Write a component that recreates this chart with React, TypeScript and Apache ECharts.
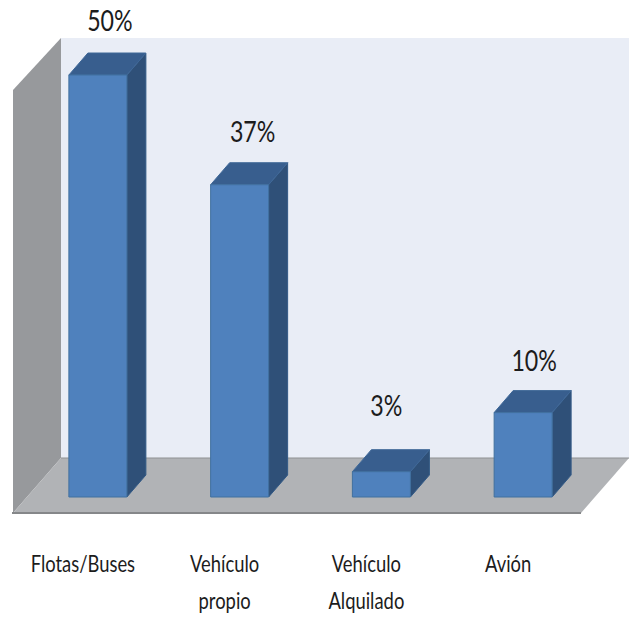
import React, { useEffect, useRef } from "react";
import * as echarts from "echarts";

const categories = ["Flotas/Buses", "Vehículo\npropio", "Vehículo\nAlquilado", "Avión"];
const values = [50, 37, 3, 10];
const valueLabels = ["50%", "37%", "3%", "10%"];
const labelShiftX = [12, 13, 5, 11];
const labelShiftY = [-55, -54, -67, -53];

const FONT = 'Lato, "Open Sans", sans-serif';
const BAR_W = 58;
const DX = 19;
const DY = 22;
const CAT_SHIFT_X = -15;
const CAT_LINE_1 = 563;
const CAT_LINE_GAP = 37;

function renderBar(params: any, api: any) {
  const i = api.value(0);
  const [cx, top] = api.coord([i, api.value(1)]);
  const [, base] = api.coord([i, 0]);
  const l = cx - BAR_W / 2;
  const r = cx + BAR_W / 2;
  const catLines = categories[i].split("\n").map((line, k) => ({
    type: "text",
    x: cx + CAT_SHIFT_X,
    y: CAT_LINE_1 + k * CAT_LINE_GAP,
    scaleX: 0.8,
    style: {
      text: line,
      font: `23px ${FONT}`,
      fill: "#1c1c1c",
      textAlign: "center",
      textVerticalAlign: "middle",
    },
  }));
  return {
    type: "group",
    children: [
      {
        type: "polygon",
        shape: { points: [[r, top], [r + DX, top - DY], [r + DX, base - DY], [r, base]] },
        style: { fill: "#2f5078", stroke: "#335a86", lineWidth: 1 },
      },
      {
        type: "polygon",
        shape: { points: [[l, top], [l + DX, top - DY], [r + DX, top - DY], [r, top]] },
        style: { fill: "#385e8e", stroke: "#3f6898", lineWidth: 1 },
      },
      {
        type: "rect",
        shape: { x: l, y: top, width: BAR_W, height: base - top },
        style: { fill: "#4f81bd", stroke: "#41709f", lineWidth: 1 },
      },
      {
        type: "text",
        x: cx + labelShiftX[i],
        y: top + labelShiftY[i],
        scaleX: 0.8,
        style: {
          text: valueLabels[i],
          font: `29px ${FONT}`,
          fill: "#1c1c1c",
          textAlign: "center",
          textVerticalAlign: "middle",
        },
      },
      ...catLines,
    ],
  };
}

export default function App() {
  const ref = useRef<HTMLDivElement>(null);
  useEffect(() => {
    const chart = echarts.init(ref.current!, null, { renderer: "svg" });
    chart.setOption({
      animation: false,
      backgroundColor: "#ffffff",
      grid: { left: 27, right: 35, top: 75, bottom: 120 },
      xAxis: {
        type: "category",
        data: categories,
        axisLine: { show: false },
        axisTick: { show: false },
        axisLabel: { show: false },
      },
      yAxis: { type: "value", min: 0, max: 50, show: false },
      graphic: [
        {
          type: "polygon",
          z: 0,
          shape: { points: [[61, 38], [629, 38], [629, 458], [61, 458]] },
          style: { fill: "#e9edf6" },
        },
        {
          type: "polygon",
          z: 0,
          shape: { points: [[13, 90], [61, 38], [61, 458], [13, 513]] },
          style: { fill: "#97999c" },
        },
        {
          type: "polygon",
          z: 0,
          shape: { points: [[61, 458], [629, 458], [581, 513], [13, 513]] },
          style: { fill: "#b1b3b6" },
        },
        {
          type: "line",
          z: 0,
          shape: { x1: 61, y1: 458, x2: 629, y2: 458 },
          style: { stroke: "#8f9193", lineWidth: 1 },
        },
        {
          type: "line",
          z: 0,
          shape: { x1: 12, y1: 513, x2: 581, y2: 513 },
          style: { stroke: "#858789", lineWidth: 2 },
        },
      ],
      series: [
        {
          type: "custom",
          z: 5,
          renderItem: renderBar,
          encode: { x: 0, y: 1 },
          data: values.map((v, i) => [i, v]),
        },
      ],
    });
    return () => chart.dispose();
  }, []);
  return (
    <div
      ref={ref}
      style={{ position: "absolute", left: 0, top: 0, width: 629, height: 617 }}
    />
  );
}
